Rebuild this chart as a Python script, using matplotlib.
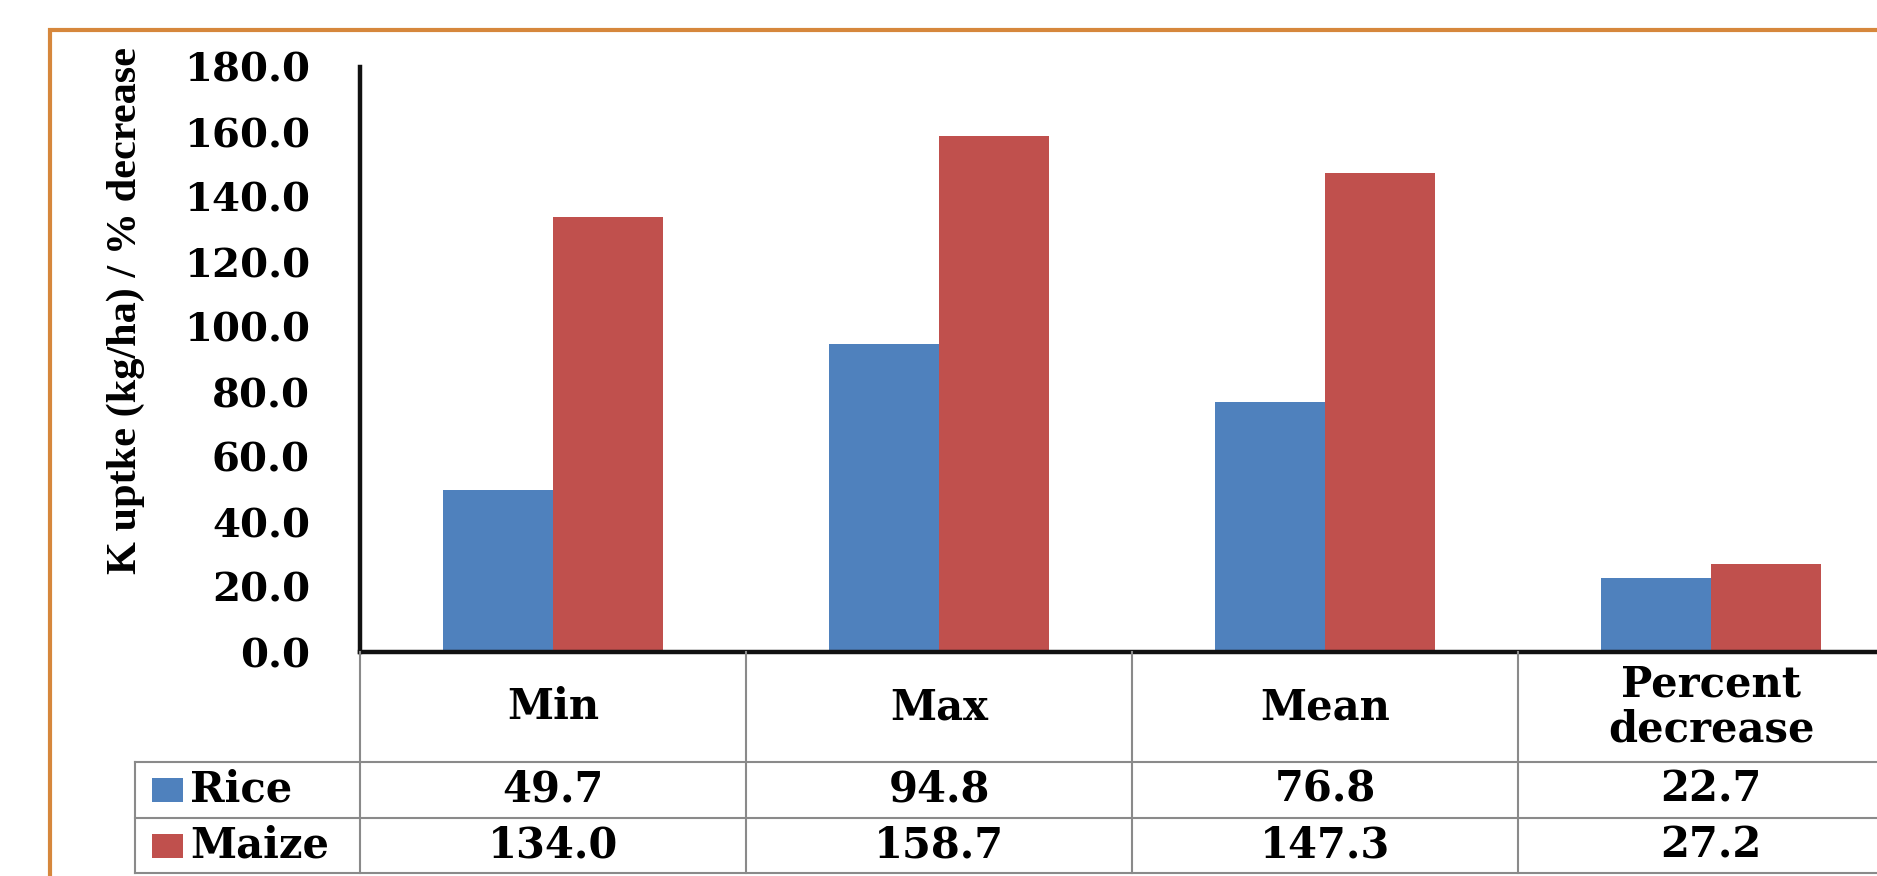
import numpy as np
import matplotlib
matplotlib.use("Agg")
import matplotlib.pyplot as plt
from matplotlib.lines import Line2D
from matplotlib.patches import Rectangle
from matplotlib.transforms import blended_transform_factory

# ---- data ----
categories = ["Min", "Max", "Mean", "Percent\ndecrease"]
series_names = ["Rice", "Maize"]
rice_values = [49.7, 94.8, 76.8, 22.7]
maize_values = [134.0, 158.7, 147.3, 27.2]
series_colors = ["#4F81BD", "#C0504D"]
y_ticks = [0, 20, 40, 60, 80, 100, 120, 140, 160, 180]
y_label = "K uptke (kg/ha) / % decrease"

# ---- canvas (pixel based layout, origin top-left) ----
W, H = 1877, 876
fig = plt.figure(figsize=(W / 100, H / 100), dpi=100)
fig.patch.set_facecolor("white")


def fx(p):
    return p / W


def fy(p):
    return 1 - p / H


AX_LEFT, AX_TOP, AX_BOTTOM = 360, 67, 652
COL_W = 386
ROW_RICE, ROW_MAIZE, TABLE_BOTTOM = 762, 818, 873
LEGEND_LEFT = 135

TXT = dict(family="DejaVu Serif", fontweight="bold", color="black")
FS_TICK = 29
FS_TABLE = 30
GRID = "#8a8a8a"

ax = fig.add_axes([fx(AX_LEFT), fy(AX_BOTTOM), (len(categories) * COL_W) / W,
                   (AX_BOTTOM - AX_TOP) / H])
x = np.arange(len(categories))
bw = 0.284
ax.bar(x - bw / 2, rice_values, bw, color=series_colors[0], zorder=2)
ax.bar(x + bw / 2, maize_values, bw, color=series_colors[1], zorder=2)
ax.set_xlim(-0.5, len(categories) - 0.5)
ax.set_ylim(y_ticks[0], y_ticks[-1])
ax.set_yticks(y_ticks)
ax.set_yticklabels([f"{v:.1f}" for v in y_ticks], fontsize=FS_TICK, **TXT)
ax.set_xticks([])
ax.tick_params(axis="y", length=0, pad=36)
for side in ("top", "right"):
    ax.spines[side].set_visible(False)
for side in ("left", "bottom"):
    ax.spines[side].set_color("#111111")
    ax.spines[side].set_linewidth(3.2)
    ax.spines[side].set_zorder(3)
ax.patch.set_alpha(0)

# ---- data table under the axis ----
tr = blended_transform_factory(ax.transData, fig.transFigure)


def fig_line(xs, ys, transform, **kw):
    fig.add_artist(Line2D(xs, ys, transform=transform, color=GRID, lw=1.5, **kw))


# column dividers
for i in range(len(categories)):
    fig_line([i - 0.5, i - 0.5], [fy(AX_BOTTOM), fy(TABLE_BOTTOM)], tr)
# row dividers and legend column
for yy in (ROW_RICE, ROW_MAIZE, TABLE_BOTTOM):
    fig_line([fx(LEGEND_LEFT), 1.05], [fy(yy), fy(yy)], fig.transFigure)
fig_line([fx(LEGEND_LEFT), fx(LEGEND_LEFT)], [fy(ROW_RICE), fy(TABLE_BOTTOM)],
         fig.transFigure)

cat_mid = (AX_BOTTOM + ROW_RICE) / 2
rice_mid = (ROW_RICE + ROW_MAIZE) / 2
maize_mid = (ROW_MAIZE + TABLE_BOTTOM) / 2

for i, name in enumerate(categories):
    fig.text(i, fy(cat_mid), name, transform=tr, ha="center", va="center",
             fontsize=FS_TABLE, linespacing=1.1, **TXT)

row_mids = [rice_mid, maize_mid]
row_values = [rice_values, maize_values]
for name, color, mid, vals in zip(series_names, series_colors, row_mids, row_values):
    for i, v in enumerate(vals):
        fig.text(i, fy(mid), f"{v:.1f}", transform=tr, ha="center", va="center",
                 fontsize=FS_TABLE, **TXT)
    fig.add_artist(Rectangle((fx(152), fy(mid + 12)), 31 / W, 24 / H,
                             transform=fig.transFigure, facecolor=color,
                             edgecolor="none"))
    fig.text(fx(190), fy(mid), name, ha="left", va="center", fontsize=FS_TABLE, **TXT)

# ---- y axis title, sized to span its slot ----
ylab = fig.text(fx(126), fy(310), y_label, rotation=90, ha="center", va="center",
                family="Liberation Serif", fontweight="bold", fontsize=30)
renderer = fig.canvas.get_renderer()
ext = ylab.get_window_extent(renderer)
ylab.set_fontsize(30 * 526 / ext.height)

# ---- outer frame ----
fig.add_artist(Rectangle((fx(50), -0.2), 1.3, fy(30) + 0.2, transform=fig.transFigure,
                         fill=False, edgecolor="#D6873C", lw=3))

fig.savefig("out.png", dpi=100, facecolor="white")
